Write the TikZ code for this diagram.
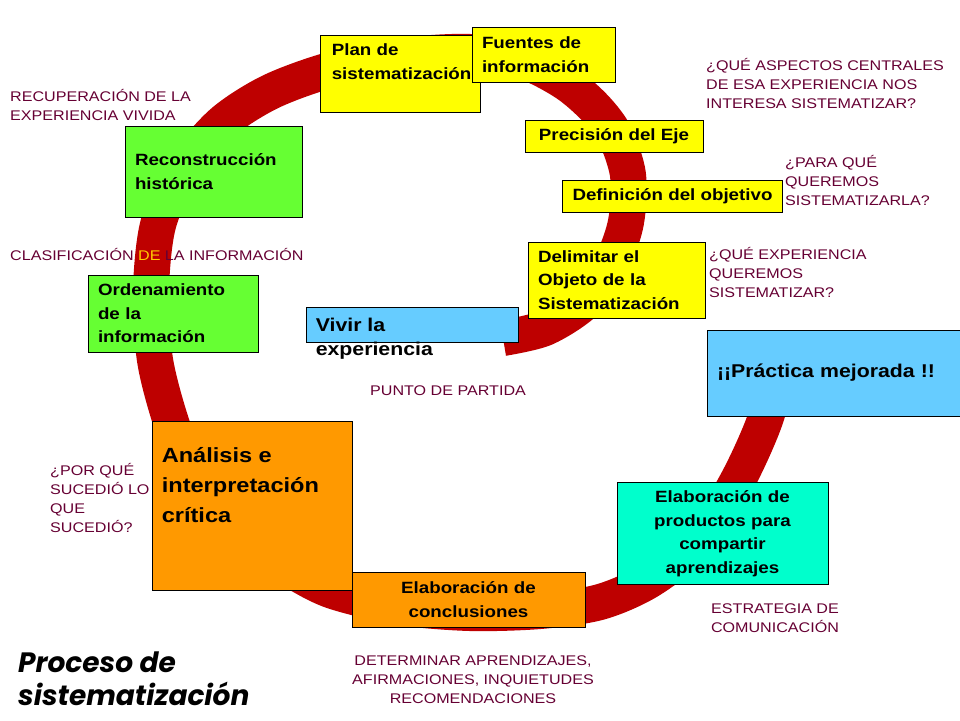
\documentclass[tikz,border=0pt]{standalone}
\usepackage{fontspec}
\setmainfont{Liberation Sans}[FakeStretch=1.15]
\newfontfamily\titlefont{Poppins}
\usepackage{xcolor}
\usetikzlibrary{positioning}

\definecolor{ringred}{RGB}{190,0,0}
\definecolor{boxyellow}{RGB}{255,255,0}
\definecolor{boxgreen}{RGB}{102,255,51}
\definecolor{boxblue}{RGB}{102,204,255}
\definecolor{boxorange}{RGB}{255,153,0}
\definecolor{boxteal}{RGB}{0,255,204}
\definecolor{notered}{RGB}{102,0,51}
\definecolor{noteyellow}{RGB}{255,204,0}

\newcommand{\stagefont}{\fontsize{16.3}{23.5}\selectfont\bfseries}
\newcommand{\bigstagefont}{\fontsize{18.5}{24}\selectfont\bfseries}
\newcommand{\hugestagefont}{\fontsize{20.5}{30}\selectfont\bfseries}
\newcommand{\notefont}{\fontsize{14}{19}\selectfont}

\begin{document}
\begin{tikzpicture}[
    x=1pt, y=-1pt,
    stage/.style={draw=black, line width=0.8pt, inner xsep=10pt, inner ysep=0pt, align=left, font=\stagefont},
    yellowstage/.style={stage, fill=boxyellow},
    greenstage/.style={stage, fill=boxgreen},
    bluestage/.style={stage, fill=boxblue},
    orangestage/.style={stage, fill=boxorange},
    tealstage/.style={stage, fill=boxteal},
    stagetext/.style={align=left, inner sep=0pt, anchor=north west},
    note/.style={text=notered, font=\notefont, align=left, inner sep=0pt, anchor=base west},
    spiral/.style={draw=ringred, line width=36pt}
]
    \useasboundingbox (0,0) rectangle (960,720);

    % red spiral band behind the stages
    \draw[spiral] plot[smooth] coordinates {
        (503,338) (545,328) (585,302) (612,262) (626,222) (628,175) (615,135)
        (595,108) (566,83) (525,62) (470,52) (400,56) (330,70) (270,92)
        (222,123) (182,170) (158,225) (151,290) (155,360) (172,425) (198,490)
        (232,530) (280,563) (330,590) (400,607) (470,613) (540,611) (600,602)
        (650,580) (700,540) (738,480) (766,417) (778,360) (780,340)};

    % upper right: defining the object
    \node[yellowstage, minimum width=160pt, minimum height=77pt] (plan) at (400,73.5) {};
    \node[stagetext, font=\stagefont] (plantext) at ([shift={(12,9)}]plan.north west) {Plan de\\sistematización};
    \node[yellowstage, text width=123pt, minimum height=55pt] (fuentes) at (543.5,54.5) {Fuentes de\\información};
    \node[yellowstage, minimum width=178pt, minimum height=32pt] (precision) at (614,136) {Precisión del Eje};
    \node[yellowstage, minimum width=215pt, minimum height=32pt] (definicion) at (672.5,196) {Definición del objetivo};
    \node[yellowstage, text width=157pt, minimum height=76pt] (delimitar) at (616.5,280) {Delimitar el\\Objeto de la\\Sistematización};

    % left: recovering the experience
    \node[greenstage, text width=157pt, minimum height=91pt] (recon) at (213.5,171.5) {Reconstrucción\\histórica};
    \node[greenstage, text width=150pt, minimum height=77pt] (orden) at (173,313.5) {Ordenamiento\\de la\\información};

    % start and end
    \node[bluestage, minimum width=212pt, minimum height=35pt] (vivir) at (412,324.5) {};
    \node[stagetext, font=\bigstagefont] (vivirtext) at ([shift={(10,11)}]vivir.north west) {Vivir la\\experiencia};
    \node[bluestage, text width=238pt, minimum height=86pt, font=\bigstagefont] (practica) at (836,373) {¡¡Práctica mejorada !!};

    % bottom: analysis and communication
    \node[orangestage, minimum width=200pt, minimum height=169pt] (analisis) at (252,505.5) {};
    \node[stagetext, font=\hugestagefont] (analisistext) at ([shift={(10,27)}]analisis.north west) {Análisis e\\interpretación\\crítica};
    \node[orangestage, text width=213pt, minimum height=55pt, align=center] (conclusiones) at (468.5,599.5) {Elaboración de\\conclusiones};
    \node[tealstage, text width=191pt, minimum height=102pt, align=center] (productos) at (722.5,533.5) {Elaboración de\\productos para\\compartir\\aprendizajes};

    % guiding questions (anchored at the baseline of their last line)
    \node[note] (recupera) at (10,120) {RECUPERACIÓN DE LA\\EXPERIENCIA VIVIDA};
    \node[note] (clasifica) at (10,260) {CLASIFICACIÓN \textcolor{noteyellow}{DE} LA INFORMACIÓN};
    \node[note] (aspectos) at (706,108) {¿QUÉ ASPECTOS CENTRALES\\DE ESA EXPERIENCIA NOS\\INTERESA SISTEMATIZAR?};
    \node[note] (paraque) at (785,205) {¿PARA QUÉ\\QUEREMOS\\SISTEMATIZARLA?};
    \node[note] (queexp) at (709,297) {¿QUÉ EXPERIENCIA\\QUEREMOS\\SISTEMATIZAR?};
    \node[note] (partida) at (370,395) {PUNTO DE PARTIDA};
    \node[note] (porque) at (50,532) {¿POR QUÉ\\SUCEDIÓ LO\\QUE\\SUCEDIÓ?};
    \node[note, align=center, anchor=base] (estrategia) at (775,632) {ESTRATEGIA DE\\COMUNICACIÓN};
    \node[note, align=center, anchor=base] (determinar) at (473,703) {DETERMINAR APRENDIZAJES,\\AFIRMACIONES, INQUIETUDES\\RECOMENDACIONES};

    % title
    \node[font=\titlefont\fontsize{28}{33}\selectfont\bfseries\itshape, align=left, inner sep=0pt, anchor=base west] (titulo) at (18,705) {Proceso de\\sistematización};
\end{tikzpicture}
\end{document}
